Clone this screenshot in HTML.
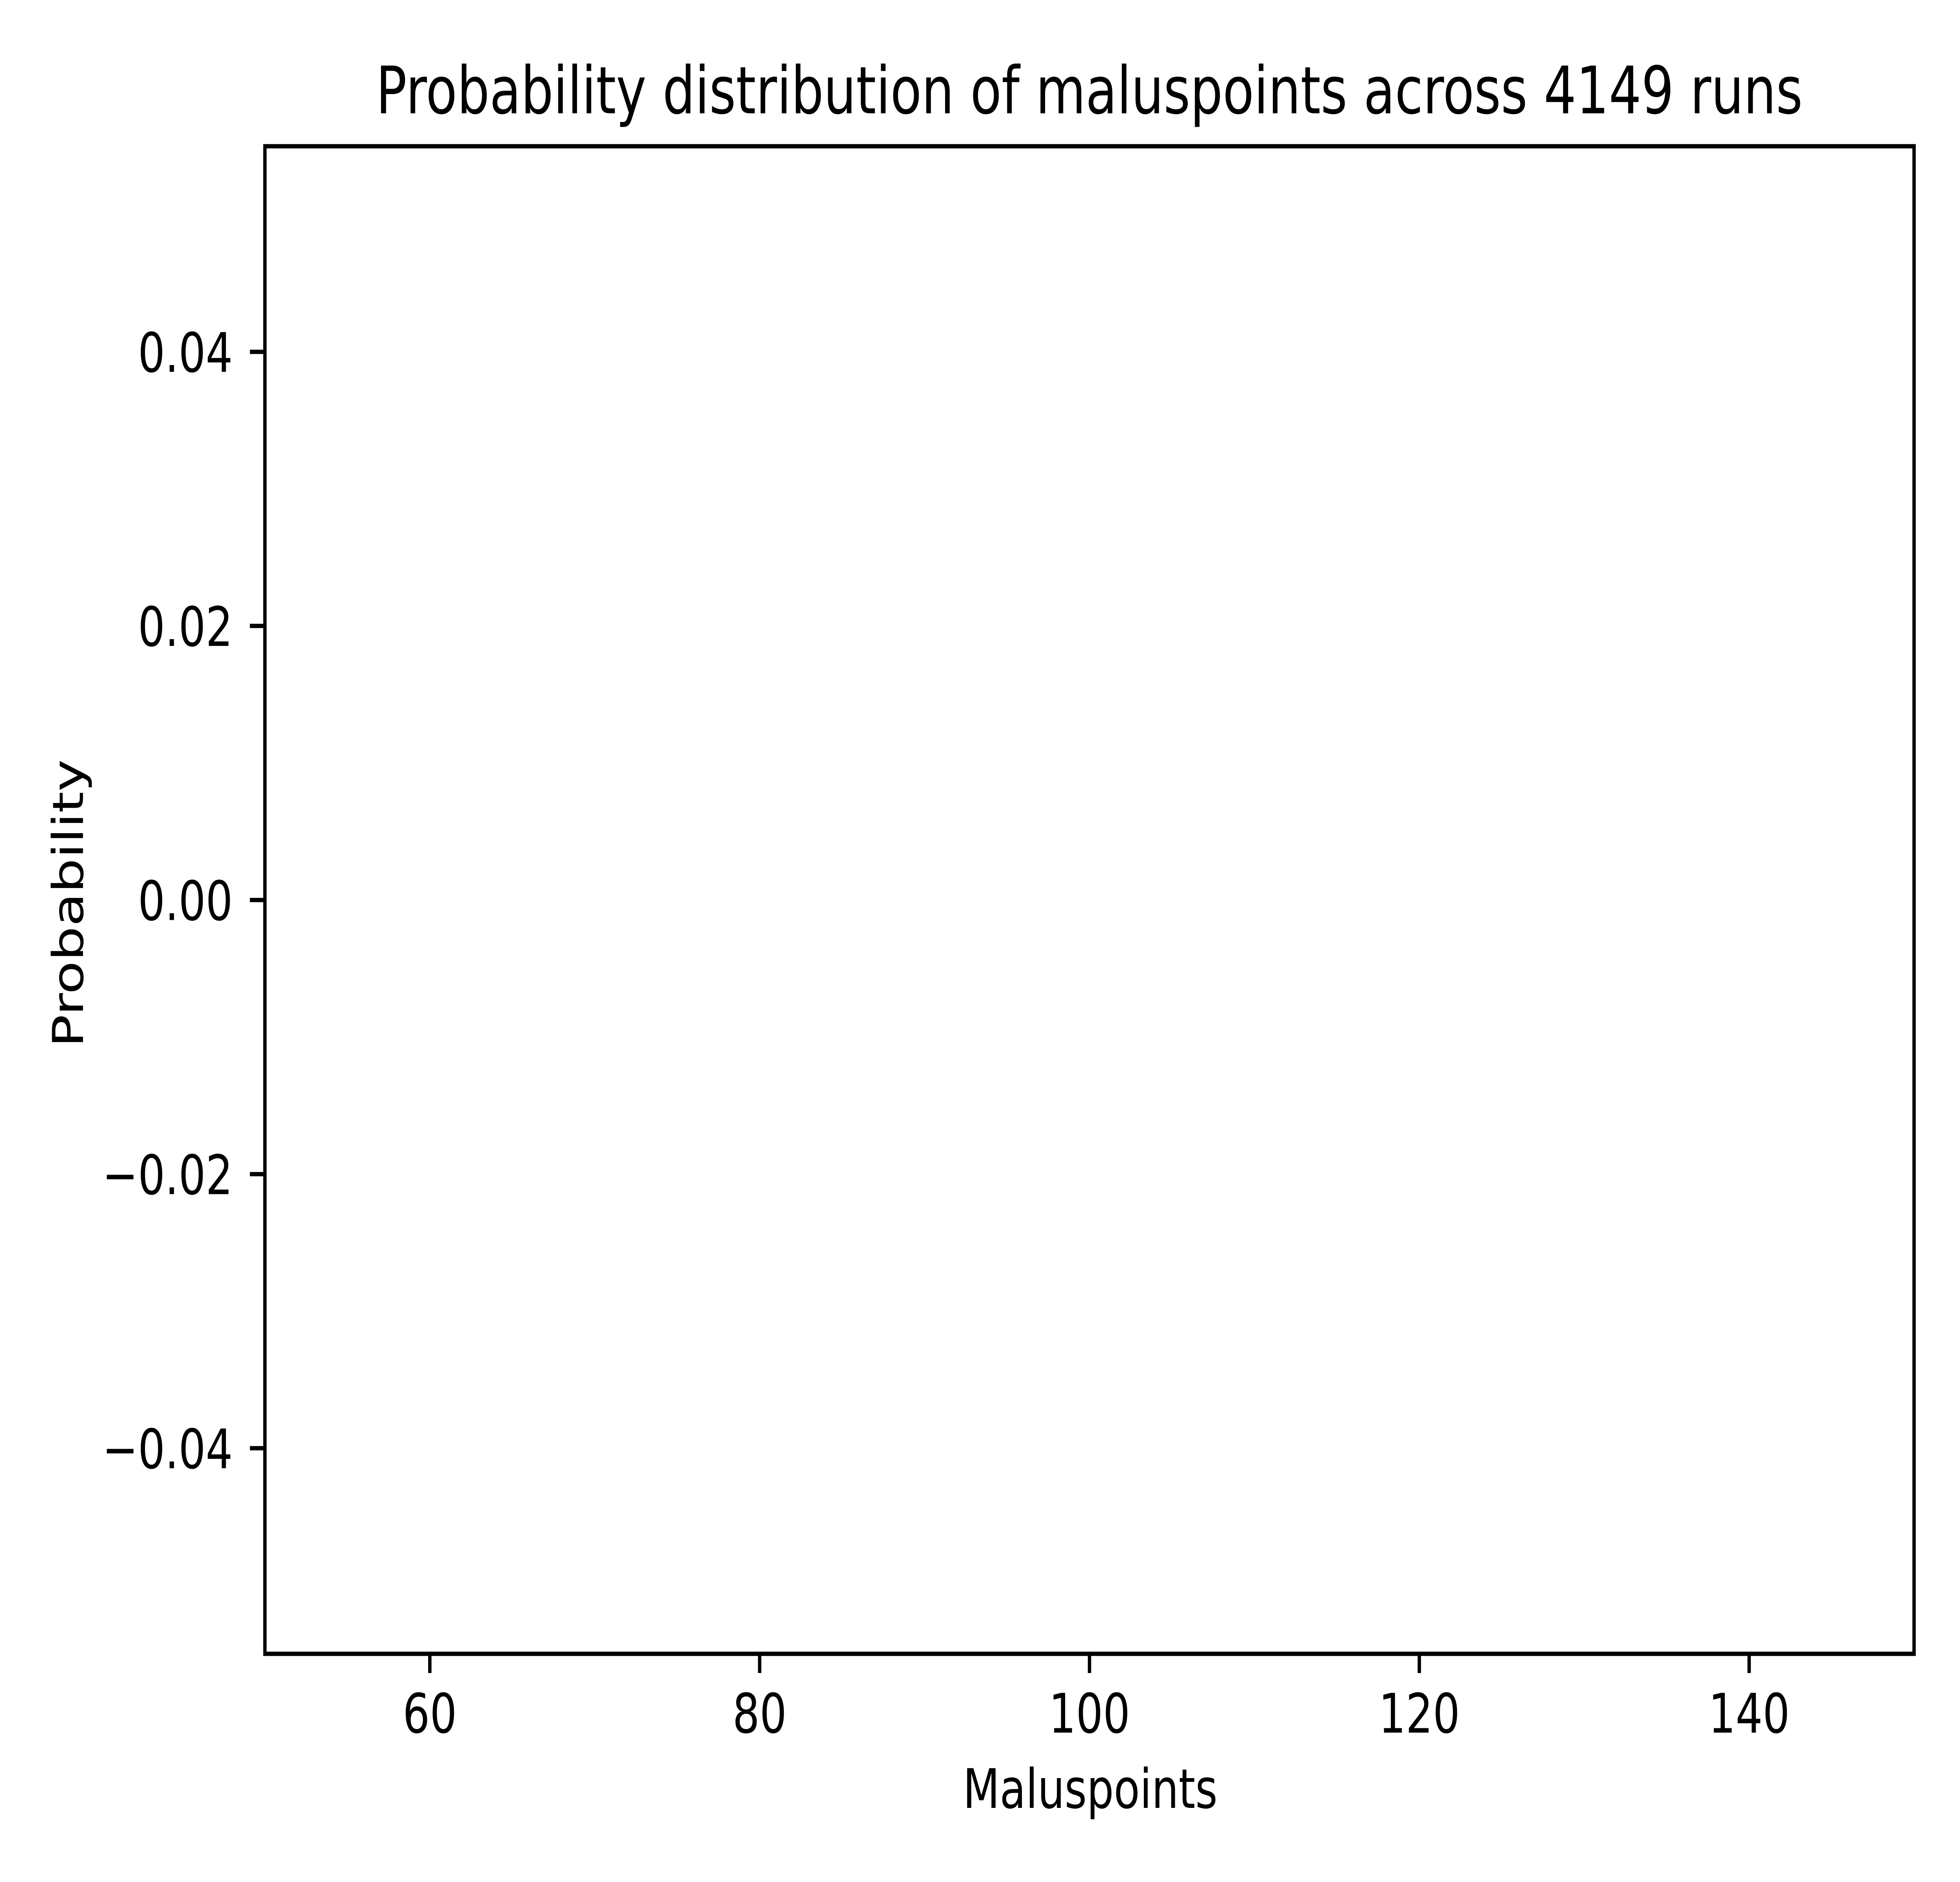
<!DOCTYPE html>
<html><head><meta charset="utf-8"><style>html,body{margin:0;padding:0;background:#fff;width:100%;height:100%;overflow:hidden}svg{display:block;width:100vw;height:100vh}text{font-family:"DejaVu Sans","Liberation Sans",sans-serif;fill:#000}</style></head>
<body>
<svg id="chart" viewBox="0 0 6400 4800" preserveAspectRatio="none" xmlns="http://www.w3.org/2000/svg">
<rect x="0" y="0" width="6400" height="4800" fill="#fff"/>
<g id="axes"></g>
<text x="3557" y="289" font-size="167" text-anchor="middle">Probability distribution of maluspoints across 4149 runs</text>
<text x="3560" y="4611" font-size="139" text-anchor="middle">Maluspoints</text>
<text x="0" y="0" font-size="139" text-anchor="middle" transform="translate(271,2304) rotate(-90)">Probability</text>
</svg>
<script>
const xTicks = [60, 80, 100, 120, 140];
const yTicks = [-0.04, -0.02, 0.00, 0.02, 0.04];
const yTickLabels = ["\u22120.04", "\u22120.02", "0.00", "0.02", "0.04"];
const binValues = [];
const binEdges = [];
const L = 865, R = 6250, T = 373, B = 4218;
const xMin = 50, xMax = 150, yMin = -0.055, yMax = 0.055;
function sx(v){ return L + (v - xMin) / (xMax - xMin) * (R - L); }
function sy(v){ return B - (v - yMin) / (yMax - yMin) * (B - T); }
const NS = "http://www.w3.org/2000/svg";
const g = document.getElementById('axes');
function mk(tag, attrs){ const e = document.createElementNS(NS, tag); for (const k in attrs) e.setAttribute(k, attrs[k]); g.appendChild(e); return e; }
for (let i = 0; i < binValues.length; i++) {
  const r = mk('rect', {x: sx(binEdges[i]), y: sy(binValues[i]), width: sx(binEdges[i+1]) - sx(binEdges[i]), height: sy(0) - sy(binValues[i]), fill: '#1f77b4'});
  
  
}
xTicks.forEach(v => {
  const t = mk('line', {x1: sx(v), x2: sx(v), y1: B, y2: B + 49, stroke: '#000', 'stroke-width': 11});
  
  
  const l = mk('text', {x: sx(v), y: 4419, 'font-size': 139, 'text-anchor': 'middle'});
  l.textContent = String(v);
  
  
});
yTicks.forEach((v, i) => {
  const t = mk('line', {x1: L - 49, x2: L, y1: sy(v), y2: sy(v), stroke: '#000', 'stroke-width': 11});
  
  
  const l = mk('text', {x: 760, y: sy(v) + 51, 'font-size': 139, 'text-anchor': 'end'});
  l.textContent = yTickLabels[i];
  
  
});
const frame = mk('rect', {x: L, y: T, width: R - L, height: B - T, fill: 'none', stroke: '#000', 'stroke-width': 11});


</script>
</body></html>
